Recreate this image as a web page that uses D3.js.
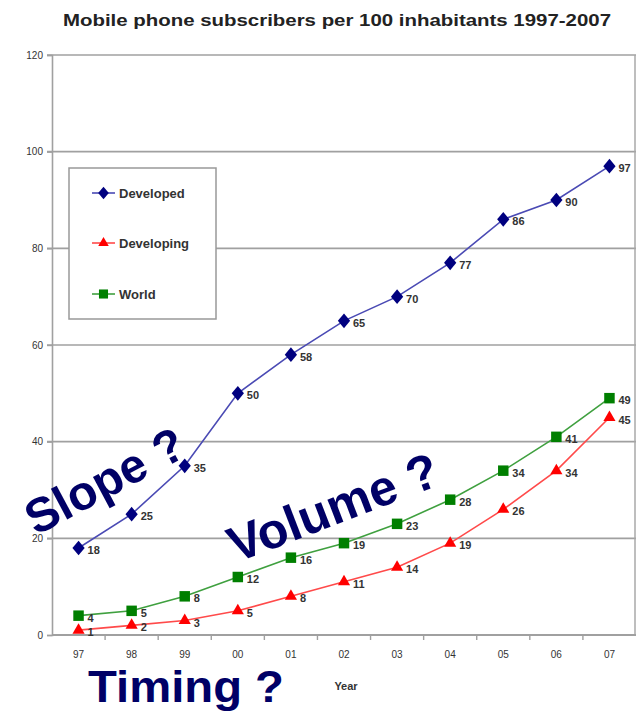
<!DOCTYPE html>
<html>
<head>
<meta charset="utf-8">
<script src="https://cdn.jsdelivr.net/npm/d3@7"></script>
<style>
  html, body { margin: 0; padding: 0; background: #fff; }
  svg { display: block; }
</style>
</head>
<body>
<svg id="chart" width="637" height="712"></svg>
<script>
// Mobile phone subscribers per 100 inhabitants, 1997-2007
const years = ["97", "98", "99", "00", "01", "02", "03", "04", "05", "06", "07"];
const developed = [18, 25, 35, 50, 58, 65, 70, 77, 86, 90, 97];
const developing = [1, 2, 3, 5, 8, 11, 14, 19, 26, 34, 45];
const world = [4, 5, 8, 12, 16, 19, 23, 28, 34, 41, 49];
const yTicks = [0, 20, 40, 60, 80, 100, 120];

const series = [
  { name: "Developed", values: developed, line: "#4a4ab4", fill: "#00007f", shape: d3.symbolDiamond, size: 62, sx: 1.45 },
  { name: "Developing", values: developing, line: "#ff4a4a", fill: "#ff0000", shape: d3.symbolTriangle, size: 64, sx: 1 },
  { name: "World", values: world, line: "#3fa03f", fill: "#007f00", shape: d3.symbolSquare, size: 110, sx: 1 }
];

const svg = d3.select("#chart");
const plot = { left: 52, right: 636, top: 55, bottom: 635 };

const x = d3.scaleBand().domain(years).range([plot.left, plot.right]);
const y = d3.scaleLinear().domain([0, 120]).range([plot.bottom, plot.top]);
const cx = d => x(d) + x.bandwidth() / 2;

// Title
svg.append("text")
  .attr("x", 337).attr("y", 26)
  .attr("text-anchor", "middle")
  .attr("textLength", 548).attr("lengthAdjust", "spacingAndGlyphs")
  .style("font-family", "'Liberation Sans Narrow', 'Liberation Sans', Arial, sans-serif")
  .style("font-weight", "bold").style("font-size", "17px").style("fill", "#222")
  .text("Mobile phone subscribers per 100 inhabitants 1997-2007");

// Horizontal gridlines
svg.append("g").selectAll("line").data(yTicks.filter(t => t > 0)).join("line")
  .attr("x1", plot.left - 5).attr("x2", plot.right)
  .attr("y1", d => y(d)).attr("y2", d => y(d))
  .attr("stroke", "#a0a0a0").attr("stroke-width", 1.6);

// Right border
svg.append("line")
  .attr("x1", plot.right - 1).attr("x2", plot.right - 1)
  .attr("y1", plot.top).attr("y2", plot.bottom)
  .attr("stroke", "#a8a8a8").attr("stroke-width", 1.5);

// Y axis
const yAxis = svg.append("g").attr("transform", `translate(${plot.left},0)`)
  .call(d3.axisLeft(y).tickValues(yTicks).tickSize(5).tickPadding(4));
yAxis.select(".domain").attr("stroke", "#a0a0a0").attr("stroke-width", 1.6);
yAxis.selectAll(".tick line").attr("stroke", "#a0a0a0").attr("stroke-width", 1.4);
yAxis.selectAll("text")
  .style("font-family", "'Liberation Sans Narrow', Arial, sans-serif")
  .style("font-size", "10px").style("fill", "#333");

// X axis with ticks between categories
const xAxis = svg.append("g").attr("transform", `translate(0,${plot.bottom})`);
xAxis.append("line")
  .attr("x1", plot.left).attr("x2", plot.right)
  .attr("stroke", "#a0a0a0").attr("stroke-width", 1.8);
xAxis.selectAll("line.tk").data(years.slice(1)).join("line").attr("class", "tk")
  .attr("x1", d => x(d)).attr("x2", d => x(d))
  .attr("y1", 0).attr("y2", 5)
  .attr("stroke", "#a0a0a0").attr("stroke-width", 1.4);
xAxis.selectAll("text").data(years).join("text")
  .attr("x", d => cx(d)).attr("y", 23)
  .attr("text-anchor", "middle")
  .style("font-family", "'Liberation Sans Narrow', Arial, sans-serif")
  .style("font-size", "10px").style("fill", "#333")
  .text(d => d);

svg.append("text")
  .attr("x", 346).attr("y", 690)
  .attr("text-anchor", "middle")
  .style("font-family", "'Liberation Sans Narrow', Arial, sans-serif")
  .style("font-weight", "bold").style("font-size", "11px").style("fill", "#333")
  .text("Year");

// Series lines, markers and value labels
const line = d3.line().x((d, i) => cx(years[i])).y(d => y(d));
series.forEach(s => {
  const g = svg.append("g");
  g.append("path").datum(s.values)
    .attr("d", line).attr("fill", "none")
    .attr("stroke", s.line).attr("stroke-width", 1.6);
  g.selectAll("path.m").data(s.values).join("path").attr("class", "m")
    .attr("d", d3.symbol().type(s.shape).size(s.size))
    .attr("transform", (d, i) => `translate(${cx(years[i])},${y(d)}) scale(${s.sx},1)`)
    .attr("fill", s.fill);
  g.selectAll("text").data(s.values).join("text")
    .attr("x", (d, i) => cx(years[i]) + 9).attr("y", d => y(d) + 6)
    .style("font-family", "'Liberation Sans Narrow', Arial, sans-serif")
    .style("font-weight", "bold").style("font-size", "11px").style("fill", "#333")
    .text(d => d);
});

// Legend
const legend = svg.append("g");
legend.append("rect")
  .attr("x", 69).attr("y", 168).attr("width", 147).attr("height", 151)
  .attr("fill", "#fff").attr("stroke", "#999").attr("stroke-width", 1.5);
const legendY = [193, 243, 294];
series.forEach((s, i) => {
  const ly = legendY[i];
  legend.append("line")
    .attr("x1", 92).attr("x2", 115).attr("y1", ly).attr("y2", ly)
    .attr("stroke", s.line).attr("stroke-width", 1.6);
  legend.append("path")
    .attr("d", d3.symbol().type(s.shape).size(s.size * 0.75))
    .attr("transform", `translate(103.5,${ly}) scale(${s.sx},1)`)
    .attr("fill", s.fill);
  legend.append("text")
    .attr("x", 119).attr("y", ly + 5)
    .style("font-family", "'Liberation Sans Narrow', Arial, sans-serif")
    .style("font-weight", "bold").style("font-size", "13px").style("fill", "#333")
    .text(s.name);
});

// Question annotations
const ann = svg.append("g")
  .style("font-family", "'Liberation Sans', Arial, sans-serif")
  .style("font-weight", "bold").style("fill", "#000066");
ann.append("text")
  .attr("transform", "translate(36,536) rotate(-28)")
  .style("font-size", "48px").text("Slope ?");
ann.append("text")
  .attr("transform", "translate(236,563) rotate(-21)")
  .style("font-size", "50px").text("Volume ?");
ann.append("text")
  .attr("x", 88).attr("y", 702)
  .attr("textLength", 196).attr("lengthAdjust", "spacingAndGlyphs")
  .style("font-size", "45px").text("Timing ?");
</script>
</body>
</html>
